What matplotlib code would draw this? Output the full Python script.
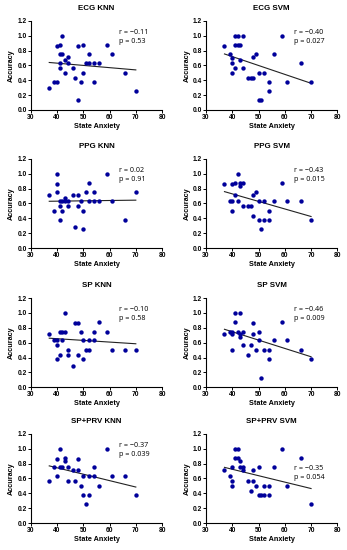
import matplotlib
matplotlib.use("Agg")
import matplotlib.pyplot as plt
import numpy as np

# state anxiety (x) and accuracy (y) per panel
ecg_knn_x = [37, 39, 40, 40, 41, 41, 41, 41, 42, 42, 43, 43, 44, 44, 46, 47, 48, 48,
             49, 50, 50, 51, 52, 52, 54, 54, 56, 59, 61, 66, 70]
ecg_knn_y = [0.29, 0.375, 0.375, 0.86, 0.875, 0.63, 0.57, 0.75, 1.0, 0.75, 0.67, 0.5,
             0.71, 0.63, 0.57, 0.43, 0.86, 0.14, 0.375, 0.5, 0.875, 0.63, 0.75, 0.63,
             0.63, 0.375, 0.63, 0.875, 0.75, 0.5, 0.25]

ecg_svm_x = [37, 39, 40, 40, 40, 41, 41, 41, 42, 42, 43, 43, 44, 44, 46, 47, 48, 48,
             49, 50, 50, 51, 52, 54, 54, 56, 59, 61, 66, 70]
ecg_svm_y = [0.86, 0.75, 0.70, 0.63, 0.5, 1.0, 0.88, 0.57, 1.0, 0.88, 0.88, 0.67,
             1.0, 0.57, 0.43, 0.43, 0.43, 0.71, 0.75, 0.5, 0.14, 0.14, 0.5, 0.38,
             0.25, 0.75, 1.0, 0.38, 0.63, 0.38]

ppg_knn_x = [37, 39, 40, 40, 40, 41, 41, 41, 42, 42, 43, 43, 44, 44, 46, 47, 48, 48,
             49, 50, 50, 51, 52, 52, 54, 54, 56, 59, 61, 66, 70]
ppg_knn_y = [0.71, 0.5, 1.0, 0.86, 0.75, 0.57, 0.63, 0.38, 0.5, 0.63, 0.67, 0.63,
             0.57, 0.63, 0.71, 0.29, 0.71, 0.57, 0.63, 0.5, 0.25, 0.75, 0.88, 0.63,
             0.75, 0.63, 0.63, 1.0, 0.63, 0.38, 0.75]

ppg_svm_x = [37, 39, 40, 40, 40, 41, 41, 42, 42, 43, 43, 44, 44, 46, 47, 48, 48, 49,
             50, 50, 51, 52, 52, 54, 54, 56, 59, 61, 66, 70]
ppg_svm_y = [0.86, 0.63, 0.86, 0.63, 0.5, 0.88, 0.71, 1.0, 0.63, 0.83, 0.88, 0.88,
             0.57, 0.57, 0.57, 0.71, 0.43, 0.75, 0.63, 0.38, 0.25, 0.63, 0.38, 0.5,
             0.38, 0.63, 0.88, 0.63, 0.63, 0.38]

sp_knn_x = [37, 39, 40, 40, 40, 41, 41, 42, 42, 43, 43, 44, 44, 46, 47, 48, 48, 49,
            50, 50, 51, 52, 52, 54, 54, 56, 59, 61, 66, 70]
sp_knn_y = [0.71, 0.63, 0.63, 0.57, 0.38, 0.75, 0.43, 0.75, 0.63, 0.75, 1.0, 0.5,
            0.43, 0.29, 0.86, 0.86, 0.43, 0.75, 0.63, 0.38, 0.5, 0.5, 0.63, 0.63,
            0.75, 0.88, 0.75, 0.5, 0.5, 0.5]

sp_svm_x = [37, 39, 40, 40, 40, 41, 41, 42, 43, 43, 43, 44, 44, 46, 47, 48, 48, 49,
            50, 50, 51, 52, 54, 54, 56, 59, 61, 66, 70]
sp_svm_y = [0.71, 0.75, 0.75, 0.71, 0.5, 1.0, 0.88, 0.75, 1.0, 0.67, 0.71, 0.75,
            0.57, 0.43, 0.57, 0.86, 0.71, 0.5, 0.75, 0.63, 0.13, 0.5, 0.5, 0.38,
            0.63, 0.88, 0.63, 0.5, 0.38]

sprv_knn_x = [37, 39, 40, 40, 41, 41, 42, 43, 43, 44, 44, 46, 47, 48, 48, 49, 50, 50,
              51, 52, 52, 54, 54, 56, 59, 61, 66, 70]
sprv_knn_y = [0.57, 0.75, 0.86, 0.63, 1.0, 0.75, 0.75, 0.88, 0.83, 0.75, 0.57, 0.71,
              0.57, 0.86, 0.71, 0.5, 0.63, 0.38, 0.25, 0.63, 0.38, 0.75, 0.63, 0.5,
              1.0, 0.63, 0.63, 0.38]

sprv_svm_x = [37, 39, 40, 40, 40, 41, 41, 42, 42, 43, 43, 44, 44, 46, 47, 48, 48, 49,
              50, 50, 51, 52, 52, 54, 54, 56, 59, 61, 66, 70]
sprv_svm_y = [0.71, 0.63, 0.75, 0.57, 0.5, 1.0, 0.88, 1.0, 0.88, 0.83, 0.75, 0.75,
              0.71, 0.57, 0.43, 0.57, 0.71, 0.5, 0.75, 0.38, 0.38, 0.5, 0.38, 0.5,
              0.38, 0.75, 1.0, 0.5, 0.88, 0.25]

titles = ["ECG KNN", "ECG SVM", "PPG KNN", "PPG SVM",
          "SP KNN", "SP SVM", "SP+PRV KNN", "SP+PRV SVM"]
r_vals = ["\u22120.11", "\u22120.40", "0.02", "\u22120.43",
          "\u22120.10", "\u22120.46", "\u22120.37", "\u22120.35"]
p_vals = ["0.53", "0.027", "0.91", "0.015", "0.58", "0.009", "0.039", "0.054"]

# regression line end values at x = 37 and x = 70
fit_x = [37, 70]
fit_y = [[0.64, 0.54], [0.755, 0.36], [0.63, 0.645], [0.76, 0.425],
         [0.66, 0.585], [0.78, 0.41], [0.77, 0.485], [0.75, 0.465]]

xs = [ecg_knn_x, ecg_svm_x, ppg_knn_x, ppg_svm_x, sp_knn_x, sp_svm_x, sprv_knn_x, sprv_svm_x]
ys = [ecg_knn_y, ecg_svm_y, ppg_knn_y, ppg_svm_y, sp_knn_y, sp_svm_y, sprv_knn_y, sprv_svm_y]

plt.rcParams['font.family'] = ['Liberation Sans', 'DejaVu Sans']

fig = plt.figure(figsize=(3.47, 5.5), dpi=100)

lefts = [0.089, 0.594]
bottoms = [0.800, 0.549, 0.296, 0.049]
w, h = 0.378, 0.162
dot = '#00009a'

for i in range(8):
    ax = fig.add_axes([lefts[i % 2], bottoms[i // 2], w, h])
    ax.scatter(xs[i], ys[i], s=10, color=dot, linewidths=0, zorder=3)
    ax.plot(fit_x, fit_y[i], color='#222222', lw=0.8, zorder=2)
    ax.set_xlim(30, 80)
    ax.set_ylim(0, 1.2)
    ax.set_xticks(np.arange(30, 81, 10))
    ax.set_yticks(np.arange(0, 1.21, 0.2))
    ax.set_yticklabels([f"{v:.1f}" for v in np.arange(0, 1.21, 0.2)])
    for s in ['top', 'right']:
        ax.spines[s].set_visible(False)
    for s in ['left', 'bottom']:
        ax.spines[s].set_linewidth(0.8)
    ax.tick_params(length=2, width=0.7, labelsize=4.8, pad=1)
    for lab in ax.get_xticklabels() + ax.get_yticklabels():
        lab.set_fontweight('bold')
    ax.set_title(titles[i], fontsize=5.7, fontweight='bold', pad=8)
    ax.set_xlabel("State Anxiety", fontsize=5.2, fontweight='bold', labelpad=1)
    ax.set_ylabel("Accuracy", fontsize=5.2, fontweight='bold', labelpad=1.5)
    ty = 1.05 if i != 7 else 0.74
    ax.text(63.5, ty, f"r = {r_vals[i]}", fontsize=5.2, family='Open Sans', va='center')
    ax.text(63.5, ty - 0.13, f"p = {p_vals[i]}", fontsize=5.2, family='Open Sans', va='center')

fig.savefig("out.png", dpi=100)
